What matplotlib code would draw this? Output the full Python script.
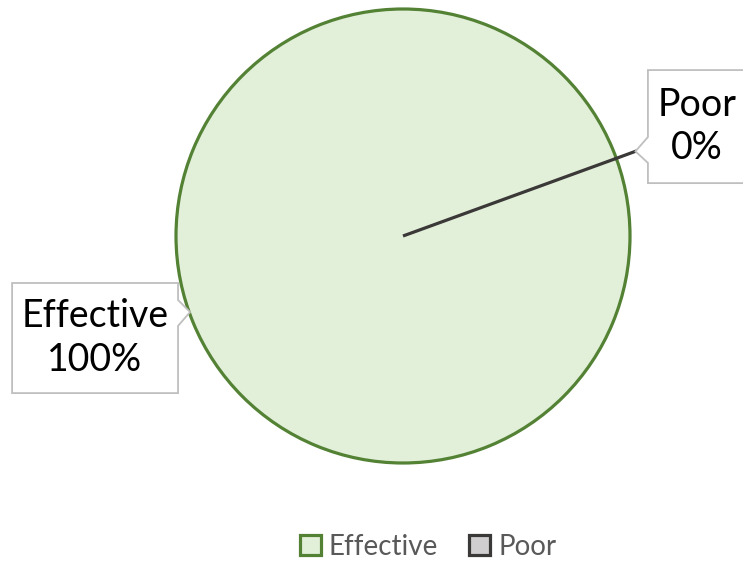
import numpy as np
import matplotlib as mpl
mpl.use("Agg")
import matplotlib.pyplot as plt
from matplotlib.patches import Polygon, Patch

plt.rcParams['font.family'] = ['Lato', 'DejaVu Sans']

labels = ["Effective", "Poor"]
values = [100, 0]
fills = ["#E2F0D9", "#D0CECE"]
edges = ["#548235", "#3B3838"]

W, H = 743, 561
fig = plt.figure(figsize=(W / 100, H / 100), dpi=100)
# pie centre and radius in pixels
cx, cy, r = 403, 236, 227
ax = fig.add_axes([(cx - r) / W, (H - cy - r) / H, 2 * r / W, 2 * r / H])

start = 20
wedges, _ = ax.pie(values, colors=fills, startangle=start, counterclock=False,
                   radius=1, wedgeprops=dict(linewidth=2.3))
for w, ec in zip(wedges, edges):
    w.set_edgecolor(ec)
    w.set_clip_on(False)
ax.set_xlim(-1, 1)
ax.set_ylim(-1, 1)
ax.axis('off')

total = sum(values)
# callout boxes: (x0, x1, y0, y1), notch side, notch (base low, base high, tip)
boxes = [
    dict(box=(-1.722, -0.991, -0.692, -0.207), side='right',
         notch=(-0.396, -0.282, (-0.938, -0.335))),
    dict(box=(1.079, 1.60, 0.233, 0.731), side='left',
         notch=(0.322, 0.436, (1.024, 0.373))),
]
text_x = [-1.357, 1.295]
for lab, v, b, tx in zip(labels, values, boxes, text_x):
    x0, x1, y0, y1 = b['box']
    lo, hi, tip = b['notch']
    if b['side'] == 'right':
        pts = [(x0, y0), (x1, y0), (x1, lo), tip, (x1, hi), (x1, y1), (x0, y1)]
    else:
        pts = [(x0, y0), (x1, y0), (x1, y1), (x0, y1), (x0, hi), tip, (x0, lo)]
        # leader line from the thin slice to its label
        a = np.deg2rad(start)
        ax.plot([np.cos(a), tip[0]], [np.sin(a), tip[1]], color=edges[1],
                lw=2.3, clip_on=False, zorder=2)
    ax.add_patch(Polygon(pts, closed=True, fc='white', ec='#BFBFBF', lw=1.3,
                         clip_on=False, zorder=3))
    ax.text(tx, (y0 + y1) / 2, f"{lab}\n{v / total * 100:.0f}%", ha='center',
            va='center', fontsize=27, linespacing=1.25, color='black',
            clip_on=False, zorder=4)

handles = [Patch(facecolor=f, edgecolor=e, linewidth=2.3, label=l)
           for l, f, e in zip(labels, fills, edges)]
fig.legend(handles=handles, loc='center', bbox_to_anchor=(428 / W, 1 - 547 / H),
           ncol=2, frameon=False, fontsize=20, labelcolor='#595959',
           handlelength=0.75, handleheight=0.75, handletextpad=0.3,
           columnspacing=1.1)

fig.savefig("out.png", dpi=100)
